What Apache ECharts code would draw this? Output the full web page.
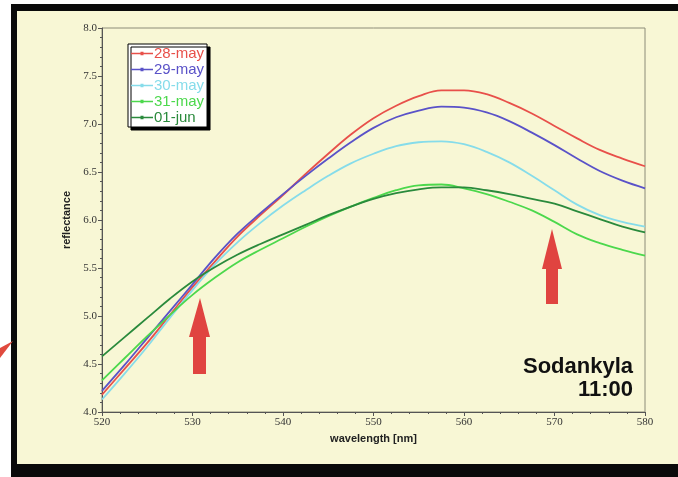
<!DOCTYPE html>
<html>
<head>
<meta charset="utf-8">
<script src="https://cdn.jsdelivr.net/npm/echarts@6/dist/echarts.min.js"></script>
<style>
  body { margin: 0; background: #fff; }
  #chart { width: 678px; height: 477px; }
</style>
</head>
<body>
<div id="chart"></div>
<script>
// wavelength samples (nm)
var wavelengths = [520, 522.5, 525, 527.5, 530, 532.5, 535, 537.5, 540, 542.5, 545, 547.5, 550,
                   552.5, 555, 557.5, 560, 562.5, 565, 567.5, 570, 572.5, 575, 577.5, 580];

// reflectance per day
var may28 = [4.18, 4.45, 4.72, 5.01, 5.30, 5.57, 5.83, 6.05, 6.26, 6.48, 6.69, 6.89, 7.06,
             7.19, 7.29, 7.35, 7.35, 7.31, 7.22, 7.11, 6.98, 6.85, 6.73, 6.64, 6.56];
var may29 = [4.22, 4.49, 4.77, 5.05, 5.33, 5.61, 5.86, 6.07, 6.27, 6.46, 6.64, 6.81, 6.96,
             7.07, 7.14, 7.18, 7.17, 7.12, 7.03, 6.91, 6.78, 6.64, 6.51, 6.41, 6.33];
var may30 = [4.13, 4.40, 4.68, 4.98, 5.27, 5.54, 5.77, 5.97, 6.15, 6.31, 6.46, 6.59, 6.69,
             6.77, 6.81, 6.82, 6.79, 6.71, 6.60, 6.46, 6.31, 6.16, 6.05, 5.98, 5.93];
var may31 = [4.33, 4.56, 4.79, 5.01, 5.22, 5.40, 5.56, 5.69, 5.81, 5.93, 6.04, 6.14, 6.23,
             6.31, 6.36, 6.37, 6.33, 6.27, 6.19, 6.10, 5.98, 5.85, 5.76, 5.69, 5.63];
var jun01 = [4.58, 4.78, 4.98, 5.18, 5.36, 5.51, 5.64, 5.75, 5.85, 5.95, 6.05, 6.14, 6.22,
             6.28, 6.32, 6.34, 6.34, 6.31, 6.27, 6.22, 6.17, 6.09, 6.01, 5.93, 5.87];

var names = ['28-may', '29-may', '30-may', '31-may', '01-jun'];
var colors = ['#e8504a', '#5a52c8', '#86dcea', '#4cd84c', '#2a8a3c'];
var values = [may28, may29, may30, may31, jun01];

var chart = echarts.init(document.getElementById('chart'));

function pairs(ys) {
    var out = [];
    for (var i = 0; i < wavelengths.length; i++) {
        out.push([wavelengths[i], ys[i]]);
    }
    return out;
}

var series = [];
var legendData = [];
for (var i = 0; i < names.length; i++) {
    series.push({
        name: names[i],
        type: 'line',
        data: pairs(values[i]),
        smooth: 0.4,
        showSymbol: false,
        lineStyle: { color: colors[i], width: 1.8 },
        itemStyle: { color: colors[i] }
    });
    legendData.push({ name: names[i], textStyle: { color: colors[i] } });
}

var tickFont = { fontFamily: 'Liberation Serif', fontSize: 11, color: '#333' };

option = {
    backgroundColor: '#f8f7d5',
    animation: false,
    grid: {
        left: 102, right: 33, top: 28, bottom: 65,
        show: true, borderColor: '#8c8c78', borderWidth: 1
    },
    legend: {
        orient: 'vertical',
        left: 128, top: 44,
        data: legendData,
        icon: 'path://M0,4 L22,4 L22,5.4 L0,5.4 Z M9.5,3 L12.5,3 L12.5,6.4 L9.5,6.4 Z',
        itemWidth: 22, itemHeight: 7,
        itemGap: 1,
        padding: [2, 3, 2, 3],
        backgroundColor: '#ffffff',
        borderColor: '#000',
        borderWidth: 1,
        borderRadius: 0,
        shadowColor: '#000',
        shadowOffsetX: 3,
        shadowOffsetY: 3,
        shadowBlur: 0,
        textStyle: { fontFamily: 'Liberation Sans', fontSize: 15, padding: [0, 0, 0, -4] }
    },
    xAxis: {
        type: 'value',
        min: 520, max: 580, interval: 10,
        name: 'wavelength [nm]',
        nameLocation: 'middle',
        nameGap: 21,
        nameTextStyle: { fontFamily: 'Liberation Sans', fontWeight: 'bold', fontSize: 11, color: '#222' },
        axisLine: { lineStyle: { color: '#555' } },
        axisTick: { length: 4, lineStyle: { color: '#555' } },
        minorTick: { show: true, splitNumber: 5, length: 2, lineStyle: { color: '#555' } },
        axisLabel: Object.assign({ margin: 5 }, tickFont),
        splitLine: { show: false }
    },
    yAxis: {
        type: 'value',
        min: 4, max: 8, interval: 0.5,
        name: 'reflectance',
        nameLocation: 'middle',
        nameGap: 26,
        nameTextStyle: { fontFamily: 'Liberation Sans', fontWeight: 'bold', fontSize: 11, color: '#222' },
        axisLine: { lineStyle: { color: '#555' } },
        axisTick: { length: 4, lineStyle: { color: '#555' } },
        minorTick: { show: true, splitNumber: 5, length: 2, lineStyle: { color: '#555' } },
        axisLabel: Object.assign({
            margin: 5,
            formatter: function (v) { return v.toFixed(1); }
        }, tickFont),
        splitLine: { show: false }
    },
    graphic: [
        // white margin and black photo frame
        { type: 'rect', shape: { x: 0, y: 0, width: 678, height: 4 }, style: { fill: '#fff' } },
        { type: 'rect', shape: { x: 0, y: 0, width: 11, height: 477 }, style: { fill: '#fff' } },
        { type: 'rect', shape: { x: 11, y: 4, width: 667, height: 7 }, style: { fill: '#0a0a0a' } },
        { type: 'rect', shape: { x: 11, y: 4, width: 6, height: 473 }, style: { fill: '#0a0a0a' } },
        { type: 'rect', shape: { x: 11, y: 464, width: 667, height: 13 }, style: { fill: '#0a0a0a' } },
        // red arrow fragment at far left
        { type: 'polygon', shape: { points: [[13, 341], [0, 348], [0, 358]] }, style: { fill: '#e04a3e' } },
        // red arrows
        {
            type: 'polygon',
            shape: { points: [[200, 298], [210, 337], [206, 337], [206, 374], [193, 374], [193, 337], [189, 337]] },
            style: { fill: '#e04440' }
        },
        {
            type: 'polygon',
            shape: { points: [[552, 229], [562, 269], [558, 269], [558, 304], [546, 304], [546, 269], [542, 269]] },
            style: { fill: '#e04440' }
        },
        {
            type: 'text', right: 45, top: 356,
            style: { text: 'Sodankyla', fontFamily: 'Liberation Sans', fontWeight: 'bold', fontSize: 22, fill: '#111' }
        },
        {
            type: 'text', right: 45, top: 379,
            style: { text: '11:00', fontFamily: 'Liberation Sans', fontWeight: 'bold', fontSize: 22, fill: '#111' }
        }
    ],
    series: series
};

chart.setOption(option);
</script>
</body>
</html>
